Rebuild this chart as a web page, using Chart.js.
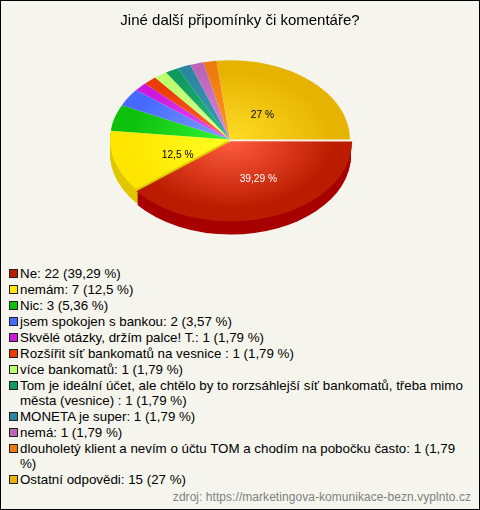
<!DOCTYPE html>
<html>
<head>
<meta charset="utf-8">
<title>Jiné další připomínky či komentáře?</title>
<script src="https://cdn.jsdelivr.net/npm/chart.js@4"></script>
<style>
    html, body { margin: 0; padding: 0; background: #f5f5ed; }
    #frame { position: relative; width: 480px; height: 510px; box-sizing: border-box; border: 1px solid #000; overflow: hidden; font-family: "Liberation Sans", Arial, sans-serif; color: #000; }
    #chart { position: absolute; left: -1px; top: -1px; }
    #legend { position: absolute; left: 8px; top: 265px; width: 462px; font-size: 13.33px; line-height: 15px; }
    .item { position: relative; padding-left: 11px; margin-bottom: 1px; }
    .box { position: absolute; left: 0; top: 3px; width: 7px; height: 7px; border: 1px solid #222; }
    #source { position: absolute; right: 8px; top: 489px; font-size: 12px; line-height: 14px; color: #808080; letter-spacing: 0.05px; }
</style>
</head>
<body>
<div id="frame">
    <canvas id="chart" width="480" height="260"></canvas>
    <div id="legend"></div>
    <div id="source">zdroj: https://marketingova-komunikace-bezn.vyplnto.cz</div>
</div>
<script>
const chartTitle = 'Jiné další připomínky či komentáře?';
const categories = [
    'Ne', 'nemám', 'Nic', 'jsem spokojen s bankou', 'Skvělé otázky, držím palce! T.',
    'Rozšířit síť bankomatů na vesnice ', 'více bankomatů',
    'Tom je ideální účet, ale chtělo by to rorzsáhlejší síť bankomatů, třeba mimo města (vesnice) ',
    'MONETA je super', 'nemá', 'dlouholetý klient a nevím o účtu TOM a chodím na pobočku často',
    'Ostatní odpovědi'
];
const counts = [22, 7, 3, 2, 1, 1, 1, 1, 1, 1, 1, 15];
const percents = ['39,29', '12,5', '5,36', '3,57', '1,79', '1,79', '1,79', '1,79', '1,79', '1,79', '1,79', '27'];
// centre of the gradient, rim of the gradient, side wall
const innerColors = ['#ff5c3e', '#ffff22', '#35f535', '#7f9fff', '#f050f5', '#ff6a3a', '#dcff98', '#25c078', '#3aa0b4', '#dc88dc', '#ff9a2a', '#ffdc28'];
const outerColors = ['#bb1c00', '#ffe600', '#0cc00c', '#466aff', '#cc18dc', '#ea3c00', '#bcff6c', '#0f9a60', '#2a86a0', '#bb66bb', '#ee7a10', '#e6b400'];
const sideColors = ['#a80000', '#e0c800', '#0a9a0a', '#3a56cc', '#a010b0', '#bb3000', '#98cc55', '#0c7a4c', '#226c80', '#955095', '#bb600c', '#b89000'];

// flat pie squashed to an ellipse, with a side wall below it
const pieX = 230, pieY = 139.5, squash = 0.66, wallDepth = 14;

function arcPath(ctx, arc) {
    const mid = (arc.startAngle + arc.endAngle) / 2;
    const shift = (arc.options.offset || 0) / 4;
    const x = arc.x + Math.cos(mid) * shift;
    const y = arc.y + Math.sin(mid) * shift;
    ctx.beginPath();
    ctx.moveTo(x, y);
    ctx.arc(x, y, arc.outerRadius, arc.startAngle, arc.endAngle);
    ctx.closePath();
}

const tiltPlugin = {
    id: 'tilt',
    beforeDatasetsDraw(chart) {
        const ctx = chart.ctx;
        const arcs = chart.getDatasetMeta(0).data;
        ctx.save();
        ctx.translate(pieX, pieY);
        ctx.scale(1, squash);
        ctx.translate(-arcs[0].x, -arcs[0].y);
        for (let d = wallDepth; d > 0; d--) {
            ctx.save();
            ctx.translate(0, d / squash);
            arcs.forEach(function (arc, i) {
                // back slices have no visible wall
                if (Math.sin((arc.startAngle + arc.endAngle) / 2) < 0) return;
                arcPath(ctx, arc);
                ctx.fillStyle = sideColors[i];
                ctx.fill();
            });
            ctx.restore();
        }
    },
    afterDatasetsDraw(chart) {
        chart.ctx.restore();
        // percent labels of the big slices
        const ctx = chart.ctx;
        ctx.font = '10.2px "Liberation Sans", Arial, sans-serif';
        ctx.textAlign = 'center';
        ctx.textBaseline = 'middle';
        const nudge = { 0: [10.5, 6.5], 1: [-0.5, 5.5], 11: [-3.5, 2.5] };
        chart.getDatasetMeta(0).data.forEach(function (arc, i) {
            if (counts[i] < 5) return;
            const mid = (arc.startAngle + arc.endAngle) / 2;
            const r = arc.outerRadius * 0.45;
            ctx.fillStyle = i === 0 ? '#fff' : '#000';
            ctx.fillText(percents[i] + ' %', pieX + Math.cos(mid) * r + nudge[i][0], pieY + Math.sin(mid) * r * squash + nudge[i][1]);
        });
    }
};

function sliceFill(context) {
    const i = context.dataIndex;
    const chart = context.chart;
    if (!chart.chartArea) return outerColors[i];
    const cx = (chart.chartArea.left + chart.chartArea.right) / 2;
    const cy = (chart.chartArea.top + chart.chartArea.bottom) / 2;
    const g = chart.ctx.createRadialGradient(cx, cy, 0, cx, cy, 120);
    g.addColorStop(0, innerColors[i]);
    g.addColorStop(0.85, outerColors[i]);
    g.addColorStop(1, outerColors[i]);
    return g;
}

new Chart(document.getElementById('chart'), {
    type: 'pie',
    data: {
        labels: categories,
        datasets: [{
            data: counts,
            backgroundColor: sliceFill,
            borderWidth: 0,
            clip: false,
            offset: function (context) { return context.dataIndex === 0 ? 12 : 0; }
        }]
    },
    options: {
        responsive: false,
        animation: false,
        rotation: 90,
        radius: 120,
        plugins: {
            title: {
                display: true,
                text: chartTitle,
                color: '#000',
                font: { family: '"Liberation Sans", Arial, sans-serif', size: 15, weight: 'normal' },
                padding: { top: 12, bottom: 10 }
            },
            legend: { display: false },
            tooltip: { enabled: false }
        }
    },
    plugins: [tiltPlugin]
});

// legend is html so the long items wrap
const legend = document.getElementById('legend');
categories.forEach(function (name, i) {
    const item = document.createElement('div');
    item.className = 'item';
    const box = document.createElement('span');
    box.className = 'box';
    box.style.background = outerColors[i];
    item.appendChild(box);
    item.appendChild(document.createTextNode(name + ': ' + counts[i] + ' (' + percents[i] + ' %)'));
    legend.appendChild(item);
});
</script>
</body>
</html>
